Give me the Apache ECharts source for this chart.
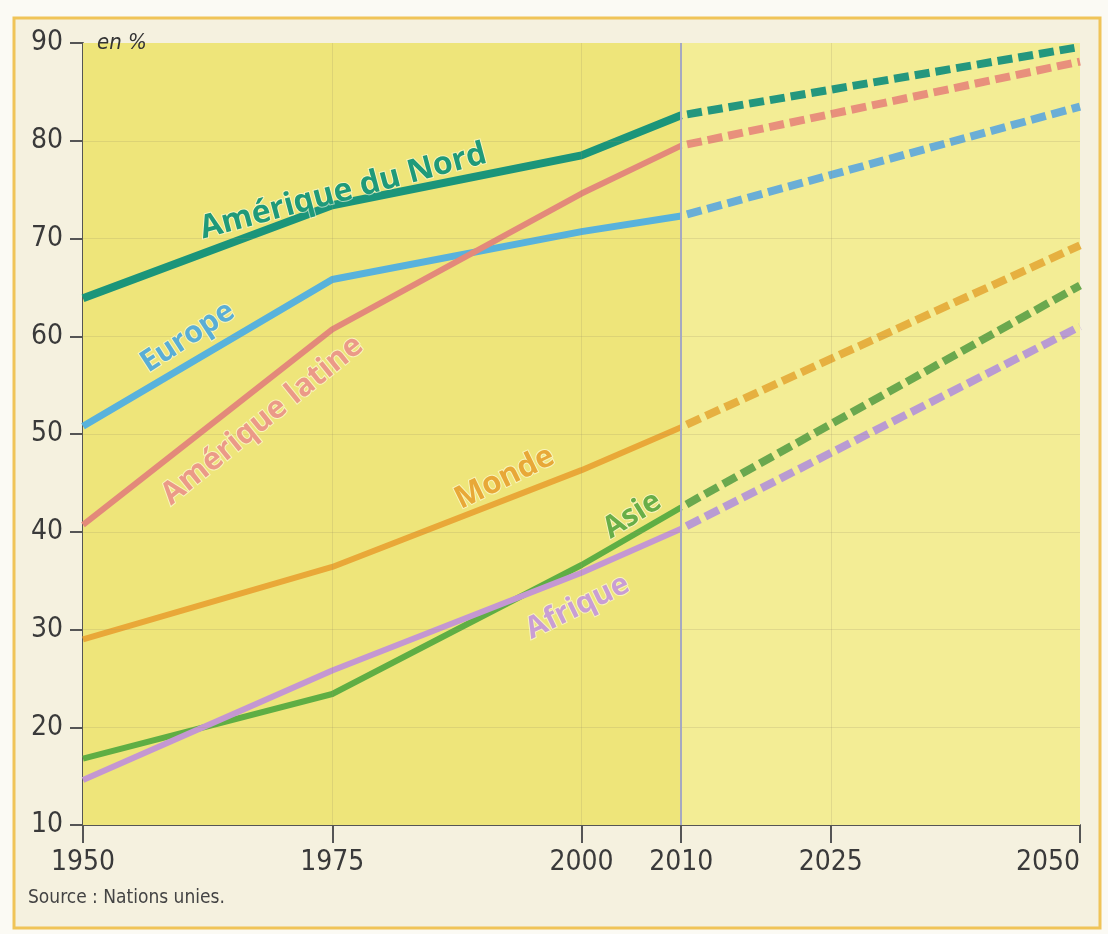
<!DOCTYPE html>
<html><head><meta charset="utf-8">
<script src="https://cdn.jsdelivr.net/npm/echarts@6/dist/echarts.min.js"></script>
<style>html,body{margin:0;padding:0;background:#fbfaf4}#c{width:1108px;height:934px}</style>
</head><body><div id="c"></div>
<script>
// ---- data ----
const histYears = [1950, 1975, 2000, 2010];
const projYears = [2010, 2050];
const yearTicks = [1950, 1975, 2000, 2010, 2025, 2050];
const valueTicks = [20, 30, 40, 50, 60, 70, 80];
const regionNames = ['Amérique du Nord', 'Europe', 'Amérique latine', 'Monde', 'Asie', 'Afrique'];
const nordHist = [63.9, 73.4, 78.5, 82.6];
const nordProj = [82.6, 89.6];
const europeHist = [50.8, 65.8, 70.7, 72.3];
const europeProj = [72.3, 83.5];
const latineHist = [40.7, 60.7, 74.6, 79.5];
const latineProj = [79.5, 88.1];
const mondeHist = [29.0, 36.4, 46.3, 50.7];
const mondeProj = [50.7, 69.3];
const asieHist = [16.8, 23.4, 36.6, 42.5];
const asieProj = [42.5, 65.2];
const afriqueHist = [14.6, 25.8, 35.8, 40.3];
const afriqueProj = [40.3, 61.0];
// label anchor points in data space (year, %)
const labelYears = [1976.1, 1960.5, 1968.0, 1992.3, 2005.1, 1999.6];
const labelValues = [74.8, 59.9, 51.4, 45.5, 41.7, 32.3];

// ---- styles ----
const lineColors = ['#1b957a', '#58b2dc', '#e3897a', '#e9a838', '#5fae44', '#c497d2'];
const dashColors = ['#24977e', '#6aaed6', '#e8907c', '#e6b040', '#6aa84e', '#b99bd2'];
const textColors = ['#1f9a7a', '#5aaed6', '#eb9a88', '#e8a838', '#68ae48', '#c99ed4'];
const lineWidths = [8, 7, 6, 6, 6, 6];
const labelAngles = [15, 33, 39, 26, 32, 26];
const labelSizes = [32, 30, 31, 31, 30, 30];

const histData = [nordHist, europeHist, latineHist, mondeHist, asieHist, afriqueHist];
const projData = [nordProj, europeProj, latineProj, mondeProj, asieProj, afriqueProj];

const tickFont = "'Liberation Sans Narrow', 'DejaVu Sans Condensed', 'Open Sans', sans-serif";
const gridLineStyle = { color: 'rgba(150,140,100,0.2)', width: 1, type: 'solid' };

const series = [{
  type: 'line', data: [], z: 1, silent: true,
  markArea: {
    silent: true,
    data: [
      [{ xAxis: 1950, itemStyle: { color: '#eee57a' } }, { xAxis: 2010 }],
      [{ xAxis: 2010, itemStyle: { color: '#f3ed95' } }, { xAxis: 2050 }]
    ]
  },
  markLine: {
    silent: true, symbol: ['none', 'none'], label: { show: false },
    data: valueTicks.map(v => ({ yAxis: v, lineStyle: gridLineStyle }))
      .concat([1975, 2000, 2025].map(y => ({ xAxis: y, lineStyle: gridLineStyle })))
      .concat([{ xAxis: 2010, lineStyle: { color: '#a6a9c2', width: 2, type: 'solid' } }])
  }
}];

regionNames.forEach((name, i) => {
  series.push({
    name: name, type: 'line', symbol: 'none', z: 3,
    data: histYears.map((y, k) => [y, histData[i][k]]),
    lineStyle: { color: lineColors[i], width: lineWidths[i], cap: 'butt', join: 'round' }
  });
  series.push({
    name: name + ' (projection)', type: 'line', symbol: 'none', z: 3,
    data: projYears.map((y, k) => [y, projData[i][k]]),
    lineStyle: { color: dashColors[i], width: 8, type: [15, 6], dashOffset: -6, cap: 'butt' }
  });
});

const chart = echarts.init(document.getElementById('c'), null, { renderer: 'canvas' });
chart.setOption({
  backgroundColor: '#fbfaf4',
  animation: false,
  grid: { left: 83, right: 28, top: 43, bottom: 109, containLabel: false },
  xAxis: {
    type: 'value', min: 1950, max: 2050, interval: 5,
    axisLine: { show: true, lineStyle: { color: '#555', width: 2 } },
    axisTick: { show: true, customValues: yearTicks, length: 18, lineStyle: { color: '#555', width: 2 } },
    axisLabel: { customValues: yearTicks, fontSize: 28, color: '#3a3a3a', margin: 24, fontFamily: tickFont, alignMaxLabel: 'right', formatter: v => String(v) },
    splitLine: { show: false }
  },
  yAxis: {
    type: 'value', min: 10, max: 90, interval: 10,
    axisLine: { show: true, lineStyle: { color: '#555', width: 2 } },
    axisTick: { show: true, length: 13, lineStyle: { color: '#555', width: 2 } },
    axisLabel: { fontSize: 28, color: '#3a3a3a', margin: 20, fontFamily: tickFont },
    splitLine: { show: false }
  },
  graphic: [
    { type: 'rect', z: -10, shape: { x: 14, y: 18, width: 1086, height: 910 },
      style: { fill: '#f5f1df', stroke: '#f0c458', lineWidth: 3 } },
    { type: 'text', z: 100, x: 97, y: 43, style: { text: 'en %', font: 'italic 22px ' + tickFont, fill: '#333', verticalAlign: 'middle' } },
    { type: 'text', z: 100, x: 28, y: 898, style: { text: 'Source : Nations unies.', font: '19px ' + tickFont, fill: '#444', verticalAlign: 'middle' } }
  ],
  series: series
});

const labelGraphics = regionNames.map((name, i) => {
  const p = chart.convertToPixel({ gridIndex: 0 }, [labelYears[i], labelValues[i]]);
  return {
    id: 'lbl' + i, type: 'text', x: p[0], y: p[1], rotation: labelAngles[i] * Math.PI / 180, z: 100,
    style: {
      text: name, fill: textColors[i], align: 'center', verticalAlign: 'middle',
      font: '700 ' + labelSizes[i] + "px 'Open Sans', sans-serif",
      stroke: 'rgba(255,255,230,0.6)', lineWidth: 2
    }
  };
});
chart.setOption({ graphic: labelGraphics });
</script></body></html>
